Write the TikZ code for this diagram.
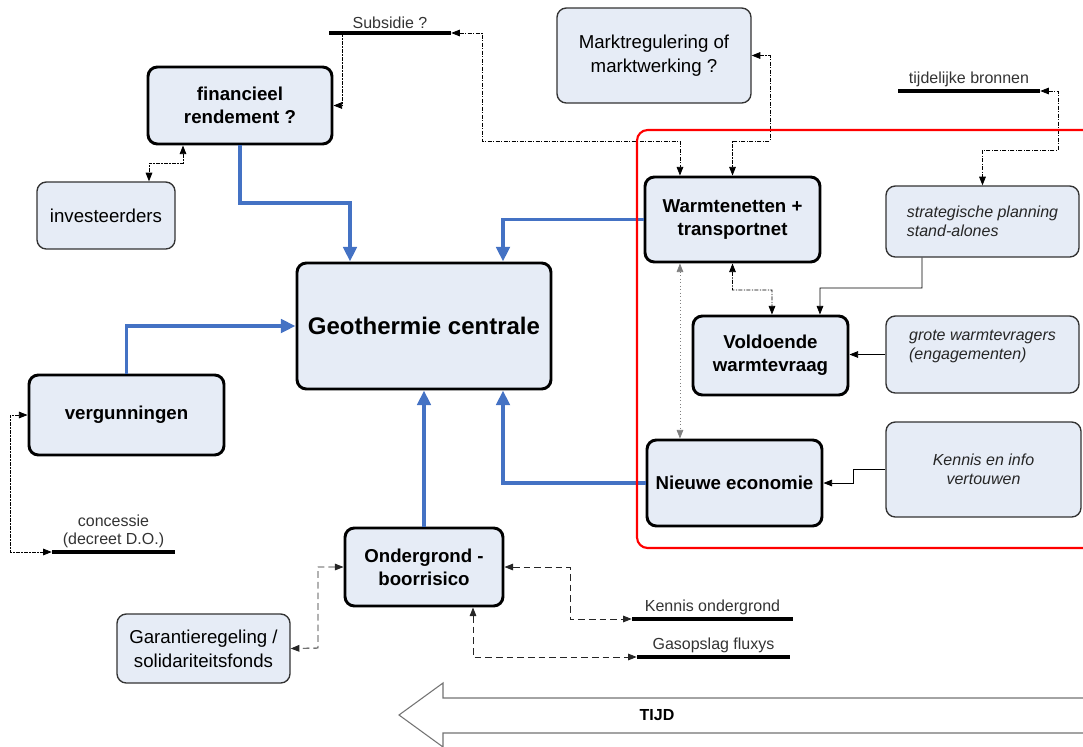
\documentclass[tikz,border=0pt]{standalone}
\usepackage{fontspec}
\setmainfont{Liberation Sans}
\usetikzlibrary{arrows.meta}

\definecolor{boxfill}{RGB}{230,236,246}
\definecolor{flowblue}{RGB}{68,114,196}

\begin{document}
\begin{tikzpicture}[x=0.75pt, y=-0.75pt, >={Triangle[length=6.5pt,width=5pt]},
	Hub/.style={draw=black, line width=2.2pt, fill=boxfill, rounded corners=7pt, align=center,
		font=\fontsize{14}{17}\selectfont\bfseries, inner sep=0pt},
	Box/.style={draw=black!80, line width=1pt, fill=boxfill, rounded corners=7pt, align=center,
		font=\fontsize{14}{18}\selectfont, inner sep=0pt},
	Note/.style={Box, font=\fontsize{12}{14.5}\selectfont\itshape, text=black!85, align=left},
	Bar/.style={rectangle, fill=black, inner sep=0pt, minimum height=3pt},
	Lab/.style={font=\fontsize{12}{14}\selectfont, text=black!80, inner sep=1pt},
	Flow/.style={draw=flowblue, line width=2.7pt, -{Triangle[length=11pt,width=10pt]}},
	Link/.style={line width=0.6pt, dash pattern=on 3pt off 1pt on 1pt off 1pt},
	Dash/.style={line width=0.7pt, black!85, dash pattern=on 5pt off 3pt},
	Dots/.style={line width=0.6pt, black!50, dotted},
	Plain/.style={line width=0.6pt, ->}
	]
\clip (0,0) rectangle (1083,747);

% boxes
\node[Hub, minimum width=190.5pt, minimum height=94.5pt, font=\fontsize{18}{22}\selectfont\bfseries] (geo) at (424,326) {Geothermie centrale};
\node[Hub, minimum width=138pt, minimum height=57.75pt] (fin) at (240,105.5) {financieel\\rendement ?};
\node[Box, minimum width=103.5pt, minimum height=50.25pt] (inv) at (106,215.5) {investeerders};
\node[Hub, minimum width=146.25pt, minimum height=60pt] (verg) at (126.5,415) {vergunningen};
\node[Hub, minimum width=118.5pt, minimum height=58.5pt] (ond) at (424,567) {Ondergrond -\\boorrisico};
\node[Box, minimum width=129.75pt, minimum height=51.75pt] (gar) at (203.5,648.5) {Garantieregeling /\\solidariteitsfonds};
\node[Box, minimum width=145.5pt, minimum height=71.25pt] (markt) at (654,55.5) {Marktregulering of\\marktwerking ?};
\node[Hub, minimum width=131.25pt, minimum height=63.75pt] (warm) at (732.5,219.5) {Warmtenetten +\\transportnet};
\node[Hub, minimum width=116.25pt, minimum height=59.25pt] (vold) at (770.5,355.5) {Voldoende\\warmtevraag};
\node[Hub, minimum width=131.25pt, minimum height=64.5pt] (nieuwe) at (734.5,483) {Nieuwe economie};
\node[Note, minimum width=144.75pt, minimum height=53.25pt] (strat) at (982.5,221.5) {strategische planning\\stand-alones};
\node[Note, minimum width=144.75pt, minimum height=57.75pt, text depth=15pt] (grote) at (982.5,354.5) {grote warmtevragers\\(engagementen)};
\node[Note, minimum width=146.25pt, minimum height=71.25pt, align=center] (kinfo) at (983.5,469.5) {Kennis en info\\vertouwen};

% bars
\node[Bar, minimum width=91.5pt, label={[Lab]above:Subsidie ?}] (sub) at (390,33) {};
\node[Bar, minimum width=106.5pt, label={[Lab]above:tijdelijke bronnen}] (tmp) at (969,91) {};
\node[Bar, minimum width=92.25pt, label={[Lab,align=center]above:concessie\\(decreet D.O.)}] (conc) at (113.5,552) {};
\node[Bar, minimum width=120.75pt, label={[Lab]above:Kennis ondergrond}] (kond) at (712.5,619) {};
\node[Bar, minimum width=114.75pt, label={[Lab]above:Gasopslag fluxys}] (gas) at (713.5,657) {};

% blue flows
\draw[Flow] (fin.south) |- (350,203) -- ([xshift=-55.5pt]geo.north);
\draw[Flow] (warm.west) -| ([xshift=59.25pt]geo.north);
\draw[Flow] (verg.north) |- (geo.west);
\draw[Flow] (ond.north) -- (geo.south);
\draw[Flow] (nieuwe.west) -| ([xshift=59.25pt]geo.south);

% thin links
\draw[Link,->] ([xshift=10.5pt]sub.west) |- (fin.east);
\draw[Link,<->] (sub.east) -| (482,141) -| ([xshift=-39.4pt]warm.north);
\draw[Link,<->] (markt.east) -| (770,141) -| (warm.north);
\draw[Link,<->] (tmp.east) -| (1058,150) -| (strat.north);
\draw[Plain] ([xshift=-45.4pt]strat.south) |- (820,288) -- ([xshift=37.1pt]vold.north);
\draw[Link,<->] (warm.south) |- (772,290) -- ([xshift=1.1pt]vold.north);
\draw[Dots,<->] ([xshift=-39.4pt]warm.south) -- ([xshift=-39.4pt]warm.south |- nieuwe.north);
\draw[Plain] (grote.west) -- (grote.west -| vold.east);
\draw[Plain] (kinfo.west) -- ++(-32,0) |- (nieuwe.east);
\draw[Link,<->] ([xshift=-42.75pt]fin.south) |- (149,163) -- ([xshift=32.25pt]inv.north);
\draw[Link,<->] (verg.west) -| (10,552) -- (conc.west);
\draw[Dash,<->] (ond.west) -| (318,648) -- (gar.east);
\draw[Dash,<->] (ond.east) -| (570,619) -- (kond.west);
\draw[Dash,<->] ([xshift=36.75pt]ond.south) |- (gas.west);

% time arrow
\draw[black!55, line width=0.8pt, fill=white] (1100,698) -- (443,698) -- (443,683) -- (399,715)
	-- (443,747) -- (443,733) -- (1100,733);
\node[font=\fontsize{12}{14}\selectfont\bfseries] (tijd) at (657,715) {TIJD};

% red frame
\draw[red, line width=1.6pt, rounded corners=8pt] (637,130) rectangle (1110,548);
\end{tikzpicture}
\end{document}
